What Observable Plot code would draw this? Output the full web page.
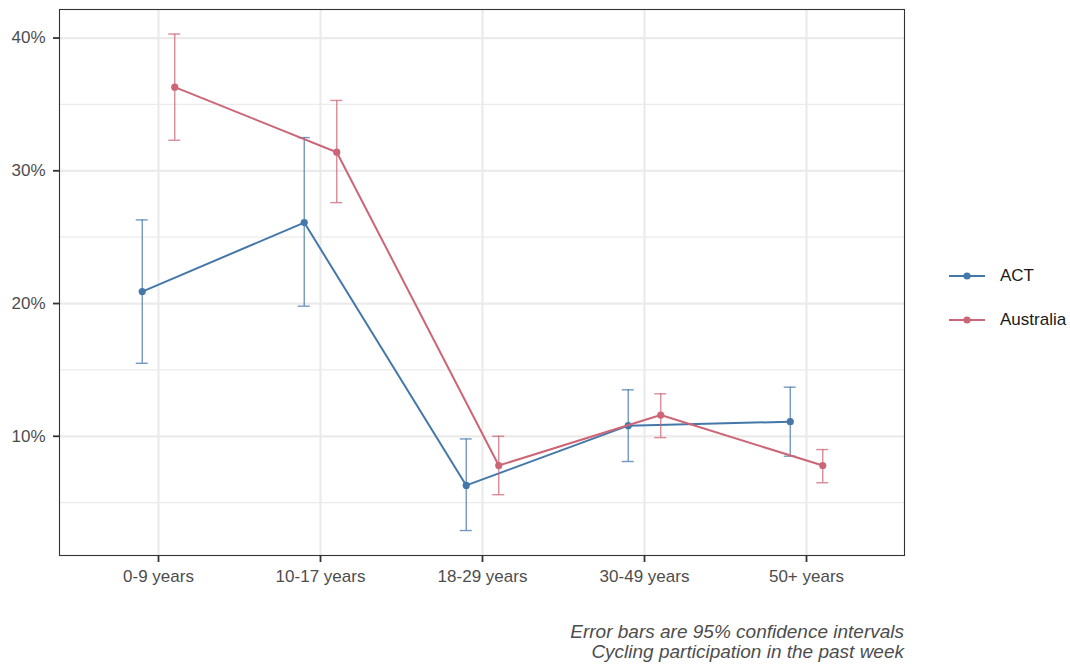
<!DOCTYPE html>
<html>
<head>
<meta charset="utf-8">
<script src="https://cdn.jsdelivr.net/npm/d3@7"></script>
<script src="https://cdn.jsdelivr.net/npm/@observablehq/plot@0.6"></script>
<style>
  body { margin: 0; background: #fff; font-family: "Liberation Sans", Arial, sans-serif; }
  #wrap { position: relative; width: 1070px; height: 668px; }
  #legend { position: absolute; left: 948px; top: 254px; font-size: 17px; color: #1a1a1a; }
  .item { display: flex; align-items: center; height: 44px; }
  .item svg { margin-right: 14px; }
  #caption { position: absolute; right: 166px; top: 622px; text-align: right; font-style: italic;
             font-size: 19px; line-height: 20px; color: #4d4d4d; white-space: nowrap; }
</style>
</head>
<body>
<div id="wrap">
  <div id="chart"></div>
  <div id="legend"></div>
  <div id="caption">Error bars are 95% confidence intervals<br>Cycling participation in the past week</div>
</div>
<script>
// Age groups on the x axis
const categories = ["0-9 years", "10-17 years", "18-29 years", "30-49 years", "50+ years"];
const seriesNames = ["ACT", "Australia"];
const seriesColors = ["#4477AA", "#CC6677"];

// Share cycling in the past week (%), with 95% confidence bounds
const actEst = [20.9, 26.1, 6.3, 10.8, 11.1];
const actLo  = [15.5, 19.8, 2.9, 8.1, 8.5];
const actHi  = [26.3, 32.5, 9.8, 13.5, 13.7];

const ausEst = [36.3, 31.4, 7.8, 11.6, 7.8];
const ausLo  = [32.3, 27.6, 5.6, 9.9, 6.5];
const ausHi  = [40.3, 35.3, 10.0, 13.2, 9.0];

const majorTicks = [10, 20, 30, 40];
const minorTicks = [5, 15, 25, 35];

const rowsFor = (name, est, lo, hi) =>
  categories.map((cat, i) => ({series: name, cat, est: est[i], lo: lo[i], hi: hi[i]}));
const actRows = rowsFor("ACT", actEst, actLo, actHi);
const ausRows = rowsFor("Australia", ausEst, ausLo, ausHi);

const dodge = 16.25;   // half the dodge width, in pixels
const capHalf = 6;     // half width of the error bar caps

function seriesMarks(rows, dx) {
  const bar = {stroke: "series", strokeOpacity: 0.75, strokeWidth: 1.4, dx};
  return [
    Plot.ruleX(rows, {x: "cat", y1: "lo", y2: "hi", ...bar}),
    Plot.ruleY(rows, {x1: "cat", x2: "cat", y: "lo", insetLeft: -capHalf, insetRight: -capHalf, ...bar}),
    Plot.ruleY(rows, {x1: "cat", x2: "cat", y: "hi", insetLeft: -capHalf, insetRight: -capHalf, ...bar}),
    Plot.line(rows, {x: "cat", y: "est", stroke: "series", strokeWidth: 2, dx}),
    Plot.dot(rows, {x: "cat", y: "est", fill: "series", r: 3.6, dx})
  ];
}

const chart = Plot.plot({
  width: 1070,
  height: 590,
  marginLeft: 59,
  marginRight: 166,
  marginTop: 9,
  marginBottom: 35,
  style: {fontFamily: "'Liberation Sans', Arial, sans-serif", fontSize: "17px", background: "#fff"},
  x: {type: "point", domain: categories, padding: 0.6, label: null},
  y: {domain: [1.02, 42.15], label: null},
  color: {domain: seriesNames, range: seriesColors},
  marks: [
    Plot.ruleY(minorTicks, {stroke: "#ebebeb", strokeWidth: 1.1}),
    Plot.ruleY(majorTicks, {stroke: "#ebebeb", strokeWidth: 2.2}),
    Plot.ruleX(categories, {stroke: "#ebebeb", strokeWidth: 2.2}),
    ...seriesMarks(actRows, -dodge),
    ...seriesMarks(ausRows, dodge),
    Plot.axisY({ticks: majorTicks, tickFormat: d => d + "%", tickSize: 6, tickPadding: 8,
                stroke: "#333", strokeWidth: 1.8, fill: "#4d4d4d", label: null}),
    Plot.axisX({tickSize: 7, tickPadding: 7, stroke: "#333", strokeWidth: 1.8, fill: "#4d4d4d", label: null}),
    Plot.frame({stroke: "#333", strokeWidth: 1.1})
  ]
});
document.getElementById("chart").appendChild(chart);

// Legend: line-and-dot keys for each series
const legend = d3.select("#legend");
seriesNames.forEach((name, i) => {
  const item = legend.append("div").attr("class", "item");
  const svg = item.append("svg").attr("width", 38).attr("height", 12);
  svg.append("line").attr("x1", 1).attr("x2", 37).attr("y1", 6).attr("y2", 6)
    .attr("stroke", seriesColors[i]).attr("stroke-width", 2);
  svg.append("circle").attr("cx", 19).attr("cy", 6).attr("r", 3.6).attr("fill", seriesColors[i]);
  item.append("span").text(name);
});
</script>
</body>
</html>
